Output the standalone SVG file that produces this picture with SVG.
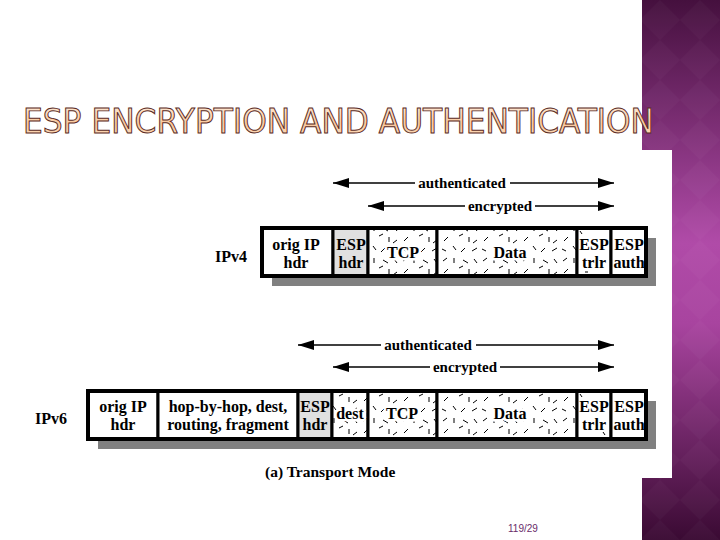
<svg xmlns="http://www.w3.org/2000/svg" width="720" height="540" viewBox="0 0 720 540">
  <defs>
    <linearGradient id="panelGrad" x1="0" y1="0" x2="0" y2="1">
      <stop offset="0" stop-color="#45103e"/>
      <stop offset="0.45" stop-color="#b04ba8"/>
      <stop offset="0.6" stop-color="#a8449f"/>
      <stop offset="1" stop-color="#3a0a33"/>
    </linearGradient>
    <linearGradient id="titleGrad" x1="0" y1="0" x2="0" y2="1">
      <stop offset="0" stop-color="#fff0e2"/>
      <stop offset="0.55" stop-color="#fac89c"/>
      <stop offset="1" stop-color="#fde0c4"/>
    </linearGradient>
    <pattern id="diamond" width="40" height="40" patternUnits="userSpaceOnUse">
      <path d="M20 0 L40 20 L20 40 L0 20 Z" fill="#ffffff" fill-opacity="0.025"/>
    </pattern>
    <pattern id="dash" width="40" height="32" patternUnits="userSpaceOnUse">
      <rect width="40" height="32" fill="#ffffff"/>
      <g stroke="#000" stroke-width="1" fill="none">
        <path d="M3 5 L7 2 M14 2 L14 7 M23 4 L28 7 M34 3 L37 7 M8 13 L4 17 M19 12 L23 10 M29 13 L29 18 M37 16 L33 19 M2 25 L6 27 M13 22 L16 26 M25 24 L21 28 M32 27 L37 24"/>
      </g>
    </pattern>
    <marker id="ah" viewBox="0 0 16 10" refX="16" refY="5" markerWidth="16" markerHeight="10" markerUnits="userSpaceOnUse" orient="auto-start-reverse">
      <path d="M0 0 L16 5 L0 10 Z" fill="#000"/>
    </marker>
    <style>
      .lbl { font-family: "Liberation Serif", "Times New Roman", serif; font-weight: bold; font-size: 16px; fill: #000; text-anchor: middle; }
      .side { font-family: "Liberation Serif", "Times New Roman", serif; font-weight: bold; font-size: 16px; fill: #000; }
      .halo { paint-order: stroke; stroke: #fff; stroke-width: 5px; stroke-linejoin: round; }
      .cell { stroke: #000; stroke-width: 3; }
      .frame { fill: none; stroke: #000; stroke-width: 4; }
      .shadow { fill: #808080; }
      .arrow { stroke: #000; stroke-width: 1.5; fill: none; }
      .alabel { font-family: "Liberation Serif", "Times New Roman", serif; font-weight: bold; font-size: 15px; fill: #000; text-anchor: middle; }
    </style>
  </defs>

  <rect width="720" height="540" fill="#ffffff"/>

  <!-- right decorative panel -->
  <g id="panel">
    <rect x="642" y="0" width="78" height="540" fill="url(#panelGrad)"/>
    <rect x="642" y="0" width="78" height="540" fill="url(#diamond)"/>
  </g>

  <!-- title -->
  <text id="title" x="23" y="133" textLength="631" lengthAdjust="spacingAndGlyphs" font-family="'Liberation Sans Narrow', 'DejaVu Sans Condensed', sans-serif" font-size="33" fill="url(#titleGrad)" stroke="#5a2a24" stroke-width="0.9">ESP ENCRYPTION AND AUTHENTICATION</text>

  <!-- figure background -->
  <rect x="80" y="150" width="592" height="328" fill="#ffffff"/>

  <!-- IPv4 row -->
  <g id="ipv4">
    <text class="side" x="215" y="262">IPv4</text>
    <rect class="shadow" x="272" y="238" width="384" height="48"/>
    <g id="ipv4-origip">
      <rect class="cell" x="262" y="228" width="71" height="48" fill="#fff"/>
      <text class="lbl" x="296" y="250">orig IP</text>
      <text class="lbl" x="296" y="268">hdr</text>
    </g>
    <g id="ipv4-esphdr">
      <rect class="cell" x="333" y="228" width="35" height="48" fill="#e0e0e0"/>
      <text class="lbl" x="351" y="250">ESP</text>
      <text class="lbl" x="351" y="268">hdr</text>
    </g>
    <g id="ipv4-tcp">
      <rect class="cell" x="368" y="228" width="69" height="48" fill="url(#dash)"/>
      <text class="lbl halo" x="403" y="258">TCP</text>
    </g>
    <g id="ipv4-data">
      <rect class="cell" x="437" y="228" width="140" height="48" fill="url(#dash)"/>
      <text class="lbl halo" x="510" y="258">Data</text>
    </g>
    <g id="ipv4-esptrlr">
      <rect class="cell" x="577" y="228" width="34" height="48" fill="#fff"/>
      <path d="M580 231 L582 234 M585 272 L588 272" stroke="#000" stroke-width="1"/>
      <text class="lbl" x="594" y="250">ESP</text>
      <text class="lbl" x="594" y="268">trlr</text>
    </g>
    <g id="ipv4-espauth">
      <rect class="cell" x="611" y="228" width="35" height="48" fill="#fff"/>
      <text class="lbl" x="629" y="250">ESP</text>
      <text class="lbl" x="629" y="268">auth</text>
    </g>
    <rect class="frame" x="262" y="228" width="384" height="48"/>
  </g>

  <!-- IPv6 row -->
  <g id="ipv6">
    <text class="side" x="35" y="424">IPv6</text>
    <rect class="shadow" x="98" y="401" width="558" height="48"/>
    <g id="ipv6-origip">
      <rect class="cell" x="88" y="391" width="70" height="48" fill="#fff"/>
      <text class="lbl" x="123" y="412">orig IP</text>
      <text class="lbl" x="123" y="430">hdr</text>
    </g>
    <g id="ipv6-ext">
      <rect class="cell" x="158" y="391" width="140" height="48" fill="#fff"/>
      <text class="lbl" x="228" y="412">hop-by-hop, dest,</text>
      <text class="lbl" x="228" y="430">routing, fragment</text>
    </g>
    <g id="ipv6-esphdr">
      <rect class="cell" x="298" y="391" width="34" height="48" fill="#e0e0e0"/>
      <text class="lbl" x="315" y="412">ESP</text>
      <text class="lbl" x="315" y="430">hdr</text>
    </g>
    <g id="ipv6-dest">
      <rect class="cell" x="332" y="391" width="36" height="48" fill="url(#dash)"/>
      <text class="lbl halo" x="350" y="419">dest</text>
    </g>
    <g id="ipv6-tcp">
      <rect class="cell" x="368" y="391" width="69" height="48" fill="url(#dash)"/>
      <text class="lbl halo" x="402" y="419">TCP</text>
    </g>
    <g id="ipv6-data">
      <rect class="cell" x="437" y="391" width="140" height="48" fill="url(#dash)"/>
      <text class="lbl halo" x="510" y="419">Data</text>
    </g>
    <g id="ipv6-esptrlr">
      <rect class="cell" x="577" y="391" width="34" height="48" fill="#fff"/>
      <path d="M580 394 L582 397 M603 432 L605 435" stroke="#000" stroke-width="1"/>
      <text class="lbl" x="594" y="412">ESP</text>
      <text class="lbl" x="594" y="430">trlr</text>
    </g>
    <g id="ipv6-espauth">
      <rect class="cell" x="611" y="391" width="35" height="48" fill="#fff"/>
      <text class="lbl" x="629" y="412">ESP</text>
      <text class="lbl" x="629" y="430">auth</text>
    </g>
    <rect class="frame" x="88" y="391" width="558" height="48"/>
  </g>

  <!-- connectors (span arrows) -->
  <g id="connectors">
    <line class="arrow" x1="333" y1="183" x2="614" y2="183" marker-start="url(#ah)" marker-end="url(#ah)"/>
    <rect x="415" y="174" width="95" height="18" fill="#fff"/>
    <text class="alabel" x="462" y="188">authenticated</text>

    <line class="arrow" x1="368" y1="206" x2="614" y2="206" marker-start="url(#ah)" marker-end="url(#ah)"/>
    <rect x="465" y="197" width="70" height="18" fill="#fff"/>
    <text class="alabel" x="500" y="211">encrypted</text>

    <line class="arrow" x1="298" y1="345" x2="614" y2="345" marker-start="url(#ah)" marker-end="url(#ah)"/>
    <rect x="381" y="336" width="95" height="18" fill="#fff"/>
    <text class="alabel" x="428" y="350">authenticated</text>

    <line class="arrow" x1="333" y1="367" x2="614" y2="367" marker-start="url(#ah)" marker-end="url(#ah)"/>
    <rect x="430" y="358" width="70" height="18" fill="#fff"/>
    <text class="alabel" x="465" y="372">encrypted</text>
  </g>

  <text id="caption" x="265" y="477" font-family="'Liberation Serif', 'Times New Roman', serif" font-weight="bold" font-size="15.5" fill="#000">(a) Transport Mode</text>

  <text id="pagenum" x="508" y="532" font-family="'Liberation Sans', Arial, sans-serif" font-size="10" fill="#6a2a6a">119/29</text>
</svg>
